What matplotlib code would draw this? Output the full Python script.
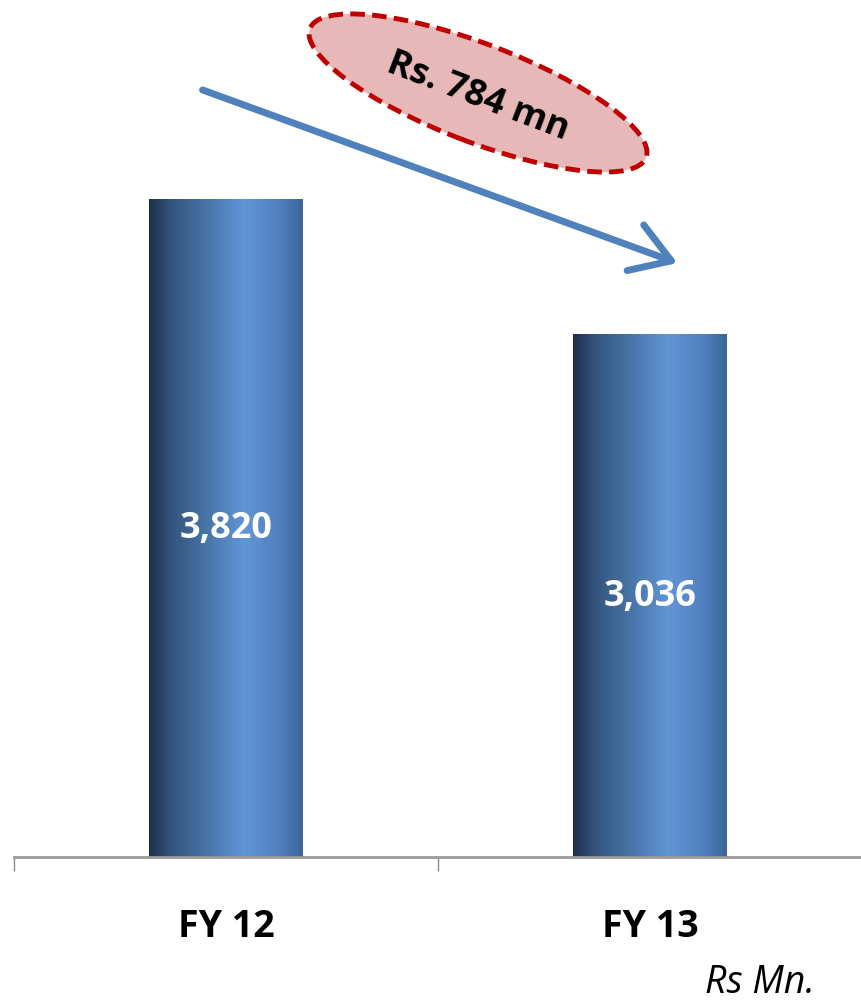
import numpy as np
import matplotlib
matplotlib.use("Agg")
import matplotlib.pyplot as plt
from matplotlib.colors import LinearSegmentedColormap
from matplotlib.patches import Ellipse

# === Données ===
categories = ["FY 12", "FY 13"]
values = [3820, 3036]
value_labels = ["3,820", "3,036"]
change_label = "Rs. 784 mn"
unit_label = "Rs Mn."

plt.rcParams["font.family"] = ["Open Sans", "DejaVu Sans"]

fig = plt.figure(figsize=(8.62, 10.03), dpi=100)
ax = fig.add_axes([14 / 862, 145 / 1003, 848 / 862, 858 / 1003])

# dégradé horizontal des barres
grad = LinearSegmentedColormap.from_list(
    "bar", [(0.0, "#1c2e4a"), (0.15, "#34557f"), (0.4, "#4a78ac"),
            (0.62, "#6196d6"), (0.85, "#5080c0"), (1.0, "#3c6596")])
xpos = np.arange(len(categories)) + 0.5
width = 0.363
bars = ax.bar(xpos, values, width=width, color="none", edgecolor="none")
g = np.linspace(0, 1, 256).reshape(1, -1)
for b in bars:
    im = ax.imshow(g, cmap=grad, aspect="auto",
                   extent=[b.get_x(), b.get_x() + b.get_width(), 0, b.get_height()],
                   zorder=2)
    im.set_clip_path(b)

for x, v, lab in zip(xpos, values, value_labels):
    ax.text(x, v / 2, lab, ha="center", va="center", color="white",
            fontsize=26, fontweight="bold", zorder=3)

ax.set_xlim(0, 2)
ax.set_ylim(0, max(values) * 858 / 658)

for s in ["top", "right", "left"]:
    ax.spines[s].set_visible(False)
ax.spines["bottom"].set_color("#9a9a9a")
ax.spines["bottom"].set_linewidth(2)
ax.set_yticks([])
ax.set_xticks([0, 1, 2])
ax.set_xticklabels([])
ax.tick_params(axis="x", which="major", length=10, width=1, color="#8a8a8a")
ax.set_xticks(xpos, minor=True)
ax.set_xticklabels(categories, minor=True, fontsize=27, fontweight="bold")
ax.tick_params(axis="x", which="minor", length=0, pad=36)

# flèche de baisse
ax.annotate("", xy=(680, 1003 - 265), xytext=(200, 1003 - 90),
            xycoords="figure pixels", textcoords="figure pixels",
            arrowprops=dict(arrowstyle="->,head_length=1.1,head_width=0.7",
                            color="#4f81bd", lw=5, mutation_scale=25))

ell = Ellipse((4.78, 10.03 - 0.94), 3.6, 0.98, angle=-21,
              transform=fig.dpi_scale_trans, facecolor="#e6b9b8",
              edgecolor="#c00000", linewidth=3.5, linestyle=(0, (3, 1.5)))
fig.add_artist(ell)
fig.text(478 / 862, 1 - 97 / 1003, change_label, rotation=-21,
         ha="center", va="center", rotation_mode="anchor",
         fontsize=26, fontweight="bold", color="black")

fig.text(760 / 862, 1 - 983 / 1003, unit_label, ha="center", va="center",
         fontsize=27, style="italic")

plt.savefig("out.png", dpi=100)
